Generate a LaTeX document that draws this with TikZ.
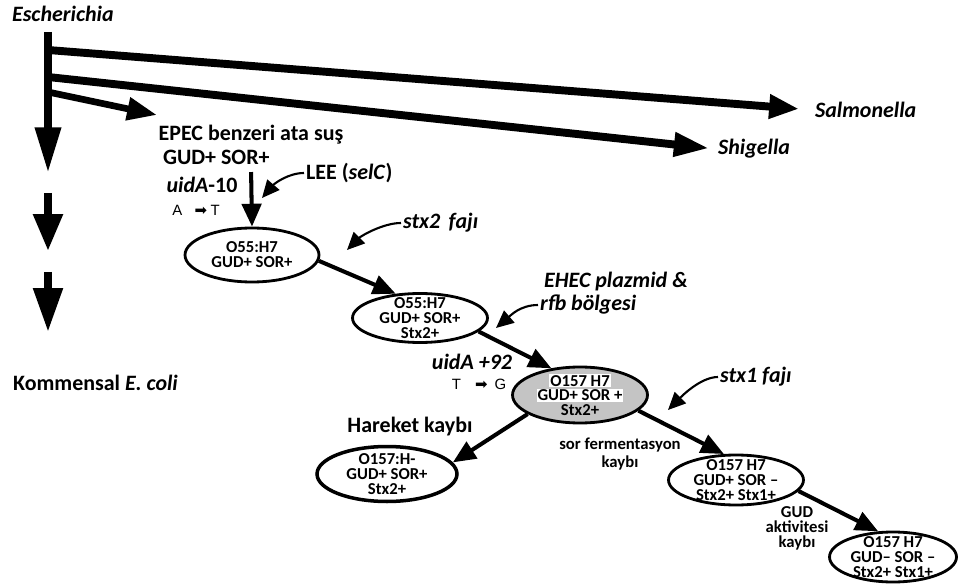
\documentclass[tikz,border=0pt]{standalone}
\usepackage{fontspec}
\setmainfont{Carlito}
\newfontfamily\arrowfont{DejaVu Sans}
\newfontfamily\basefont{Liberation Sans}
\usetikzlibrary{arrows.meta,shapes.geometric,positioning}
\setlength{\fboxsep}{0.6pt}
\setlength{\lineskiplimit}{-10pt}

\tikzset{
  lbl/.style={font=\fontsize{12.5}{13.5}\selectfont\bfseries, inner sep=1pt},
  note/.style={font=\fontsize{9.5}{10}\selectfont\bfseries, inner sep=1pt, align=center},
  mut/.style={font=\fontsize{8.5}{8.5}\selectfont\basefont, inner sep=1pt},
  strain/.style={ellipse, draw, line width=1.6pt, inner sep=0pt},
  straintext/.style={font=\fontsize{9.5}{8.5}\selectfont\bfseries, align=center, inner sep=0pt},
  tree/.style={line width=4.5pt, -{Triangle[length=17pt,width=13pt]}},
  trunk/.style={line width=4.5pt, -{Triangle[length=24pt,width=15pt]}},
  link/.style={line width=2.3pt, -{Triangle[length=13pt,width=11pt]}},
  hint/.style={line width=1.2pt, -{Triangle[length=10pt,width=9pt]}},
}

\begin{document}
\begin{tikzpicture}[x=0.02cm, y=-0.02cm]
\useasboundingbox (0,0) rectangle (960,584);

% tree of genera
\node[lbl, anchor=west] (esch) at (10,14) {\textit{Escherichia}};
\node[lbl, anchor=west] (salm) at (813,110) {\textit{Salmonella}};
\node[lbl, anchor=west] (shig) at (716,149) {\textit{Shigella}};
\node[lbl, anchor=west] (komm) at (11,383) {Kommensal \textit{E. coli}};
\coordinate (root) at (48,32);
\coordinate (t1) at (48,173);
\coordinate (t2s) at (48,193);
\coordinate (t2) at (48,251);
\coordinate (t3s) at (48,272);
\coordinate (t3) at (48,332);
\coordinate (b1) at (48,50);
\coordinate (b2) at (48,77);
\coordinate (b3) at (48,92);
\coordinate (epectip) at (157,115);
\draw[trunk, -{Triangle[length=26pt,width=14pt]}] (root) -- (t1);
\draw[trunk, -{Triangle[length=21pt,width=16pt]}] (t2s) -- (t2);
\draw[trunk, -{Triangle[length=25pt,width=16pt]}] (t3s) -- (t3);
\draw[tree, shorten >=8pt] (b1) -- (salm.west);
\draw[tree, -{Triangle[length=20pt,width=13pt]}, shorten >=4pt] (b2) -- (shig.west);
\draw[tree, line width=3.8pt, -{Triangle[length=17pt,width=12.5pt]}] (b3) -- (epectip);

% ancestor and strains
\node[lbl, align=left] (epec) at (251,145) {EPEC benzeri ata suş\\\hspace*{2.5pt}GUD+ SOR+};
\node[strain, minimum width=2.68cm, minimum height=1.08cm,
  label={[straintext]center:{O55:H7\\GUD+ SOR+}}] (e1) at (252,255) {};
\node[strain, minimum width=2.70cm, minimum height=0.98cm,
  label={[straintext]center:{O55:H7\\GUD+ SOR+\\Stx2+}}] (e2) at (420,318) {};
\node[strain, fill=black!23, minimum width=2.70cm, minimum height=1.12cm,
  label={[straintext]center:{\colorbox{white}{O157 H7}\\\colorbox{white}{GUD+ SOR +}\\Stx2+}}] (e3) at (580,395) {};
\node[strain, line width=2pt, minimum width=2.80cm, minimum height=1.10cm,
  label={[straintext]center:{O157:H-\\GUD+ SOR+\\Stx2+}}] (e4) at (387,474) {};
\node[strain, minimum width=2.70cm, minimum height=1.00cm,
  label={[straintext]center:{O157 H7\\GUD+ SOR --\\Stx2+ Stx1+}}] (e5) at (736,480) {};
\node[strain, minimum width=2.54cm, minimum height=1.00cm,
  label={[straintext]center:{O157 H7\\GUD-- SOR --\\Stx2+ Stx1+}}] (e6) at (893,557) {};

\draw[link, shorten <=3pt] (epec.south) -- (e1.north);
\draw[link] (e1.-5) -- (e2.135);
\draw[link] (e2.-13) -- (e3.137);
\draw[link] (e3.-15) -- (e5.115);
\draw[link] (e3.200) -- (e4.10);
\draw[link] (e5.-10) -- (e6.120);

% events
\node[lbl] (uid1) at (202,185) {\textit{uidA}-10};
\node[mut] (mut1) at (196,210) {A\hspace{7pt}{\arrowfont ➡}\hspace{2pt}T};
\node[lbl, anchor=west] (lee) at (304,173) {LEE (\textit{selC})};
\node[lbl, anchor=west] (stxtwo) at (401,223) {\textit{stx2\hspace{2pt} fajı}};
\node[lbl, anchor=west] (ehec) at (542,282) {\textit{EHEC plazmid \&}};
\node[lbl, anchor=west] (rfb) at (538,305) {\textit{rfb bölgesi}};
\node[lbl] (uid2) at (472,362) {\textit{uidA +92}};
\node[mut] (mut2) at (479,384) {T\hspace{8pt}{\arrowfont ➡}\hspace{4pt}G};
\node[lbl, anchor=west] (stxone) at (718,377) {\textit{stx1 fajı}};
\node[lbl] (motil) at (410,427) {Hareket kaybı};
\node[note] (sorloss) at (620,454) {sor fermentasyon\\kaybı};
\node[note, font=\fontsize{9.5}{8.5}\selectfont\bfseries] (gudloss) at (797,528) {GUD\\aktivitesi\\kaybı};

\coordinate (leetip) at (262,198);
\coordinate (stxtwotip) at (347,250);
\coordinate (ehectip) at (496,328);
\coordinate (stxonetip) at (668,410);
\draw[hint] (lee.west) .. controls +(-16,0) and +(12,-14) .. (leetip);
\draw[hint] (stxtwo.west) .. controls +(-18,0) and +(14,-14) .. (stxtwotip);
\draw[hint] (rfb.west) .. controls +(-18,0) and +(14,-12) .. (ehectip);
\draw[hint] (stxone.west) .. controls +(-18,0) and +(12,-12) .. (stxonetip);
\end{tikzpicture}
\end{document}
